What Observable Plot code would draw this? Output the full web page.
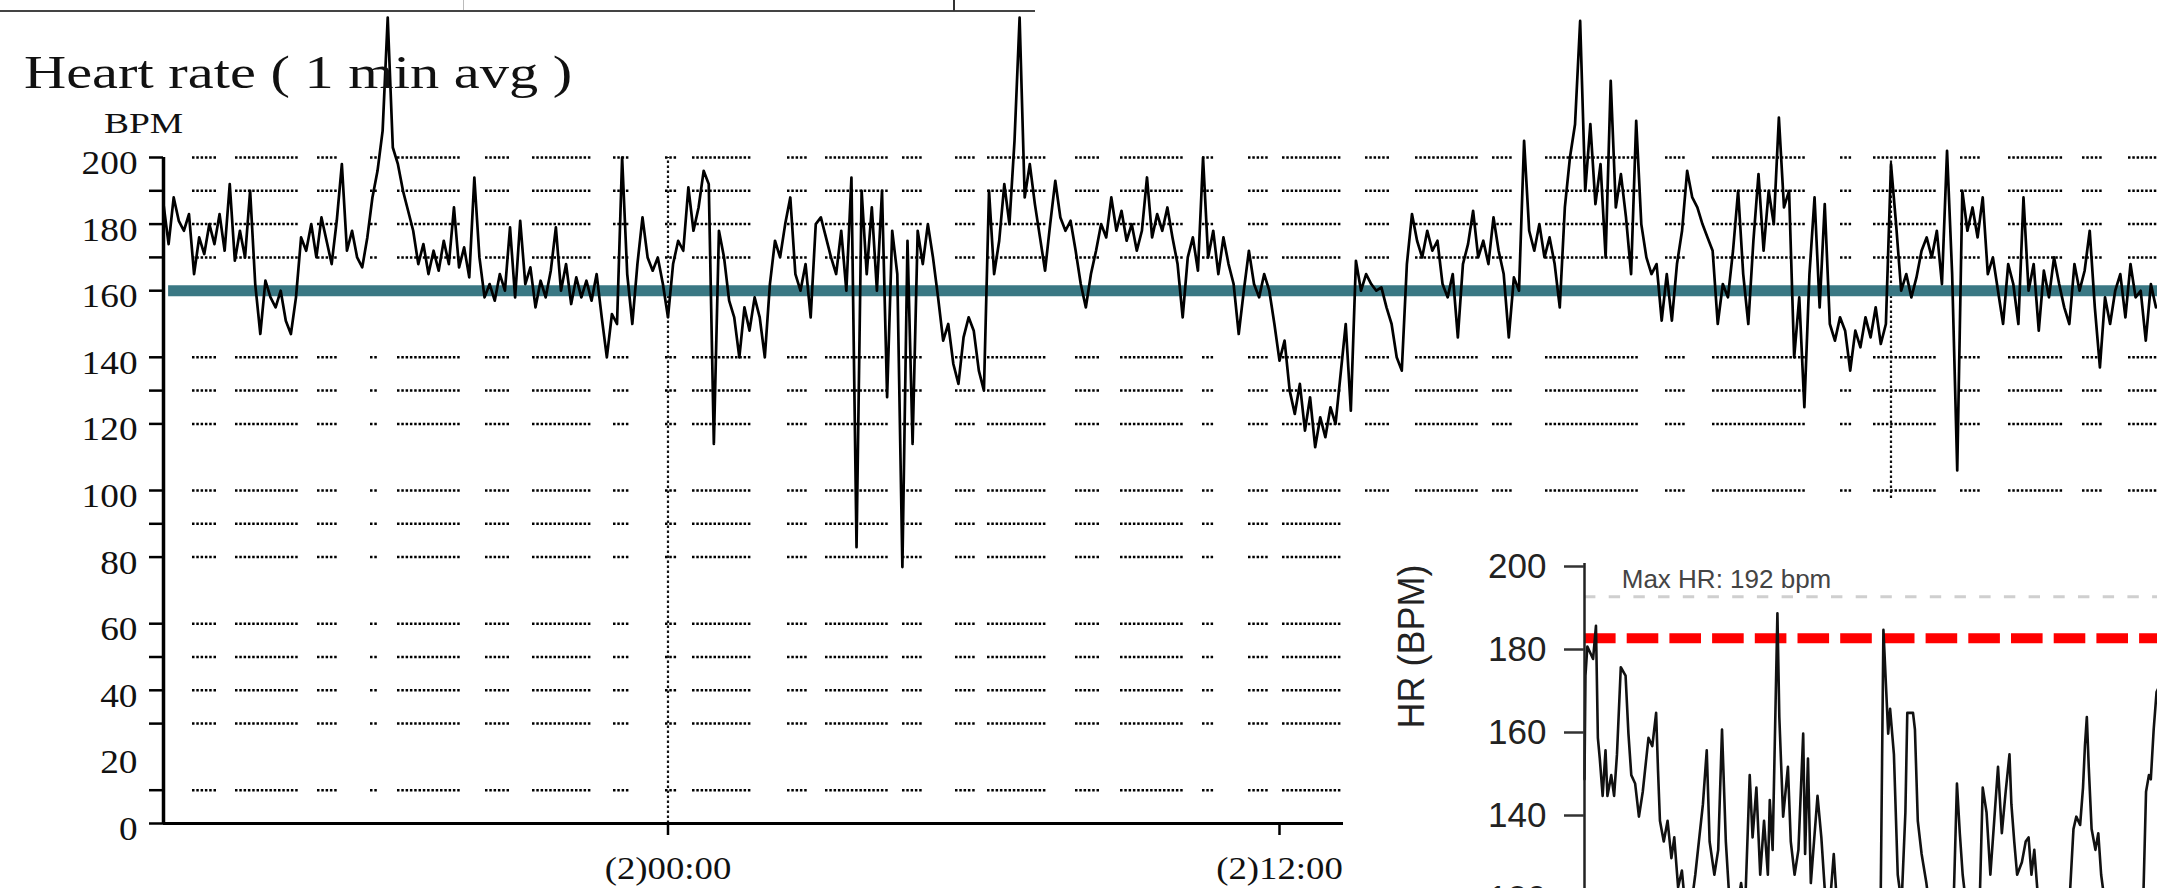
<!DOCTYPE html>
<html>
<head>
<meta charset="utf-8">
<script src="https://cdn.jsdelivr.net/npm/d3@7"></script>
<script src="https://cdn.jsdelivr.net/npm/@observablehq/plot@0.6"></script>
<style>
  html, body { margin: 0; padding: 0; background: #fff; }
  #wrap { position: relative; width: 2157px; height: 888px; overflow: hidden; background: #fff; }
  #wrap > * { position: absolute; }
  #title { left: 24px; top: 50px; font: 46px/46px "Liberation Serif", serif; color: #111; white-space: nowrap; transform: scaleX(1.27); transform-origin: left center; }
  #bpm { left: 104px; top: 108px; font: 30px/30px "Liberation Serif", serif; color: #111; white-space: nowrap; transform: scaleX(1.25); transform-origin: left center; }
  #topline { left: 0; top: 10px; width: 1035px; height: 0; border-top: 2px solid #444; }
  #tick1 { left: 953px; top: 0; width: 2px; height: 11px; background: #333; }
  #tick2 { left: 463px; top: 0; width: 1px; height: 10px; background: #bbb; }
</style>
</head>
<body>
<div id="wrap">
  <div id="topline"></div>
  <div id="tick1"></div>
  <div id="tick2"></div>
</div>
<script>
// ---------- main chart data: 1-min avg heart rate, sampled every 0.1 h ----------
// hours counted from (1)00:00; 24 = (2)00:00, 36 = (2)12:00, 48 = (3)00:00
const hrStep = 0.1;
const hrFrom14 = [ // 14.1 .. 23.9
  186,174,188,181,178,183,165,176,171,
  180,174,183,172,192,169,178,170,190,162,
  147,163,158,155,160,151,147,158,176,172,
  180,170,182,175,168,181,198,172,178,170,
  167,176,188,196,208,242,203,198,190,184,
  178,168,174,165,172,166,175,168,185,167,
  173,164,194,170,158,162,157,165,160,179,
  158,181,162,167,155,163,158,166,179,160,
  168,156,164,158,163,157,165,152,140,153,
  150,200,165,150,168,182,170,166,170,162
];
const hrFrom24 = [ // 24.0 .. 33.9
  152,168,175,172,191,178,185,196,192,114,
  178,170,157,152,140,155,148,158,152,140,
  162,175,170,180,188,165,160,168,152,180,
  182,176,170,165,178,160,194,83,190,165,
  185,160,190,128,178,165,77,175,114,178,
  168,180,170,158,145,150,138,132,146,152,
  148,136,130,190,165,175,192,180,205,242,
  188,198,186,176,166,180,193,182,178,181,
  172,162,155,165,172,180,176,188,178,184,
  175,180,172,178,194,176,183,178,185,176
];
const hrFrom34 = [ // 34.0 .. 43.9
  168,152,170,176,166,200,170,178,165,176,
  168,162,147,160,172,162,158,165,160,150,
  139,145,130,123,132,118,128,113,122,116,
  125,120,135,150,124,169,160,165,162,160,
  161,155,150,140,136,168,183,175,170,178,
  172,175,162,158,165,146,168,174,184,170,
  175,168,182,172,165,146,164,160,205,178,
  172,180,170,176,168,155,185,200,210,241,
  190,210,186,198,170,223,185,195,182,165,
  211,180,170,165,168,151,165,151,168,178
];
const hrFrom44 = [ // 44.0 .. 53.2
  196,188,185,180,176,172,150,162,158,172,
  190,165,150,175,195,172,190,180,212,185,
  190,140,158,125,165,188,155,186,150,145,
  152,148,136,148,143,152,146,155,144,150,
  198,180,160,165,158,164,172,176,170,178,
  162,202,165,106,190,178,185,176,188,165,
  170,160,150,168,162,150,188,160,168,148,
  166,158,170,162,155,150,168,160,166,178,
  155,137,158,150,160,165,152,168,158,160,
  145,162,155
];
const yLabelTicks = [0, 20, 40, 60, 80, 100, 120, 140, 160, 180, 200];
const yGridRows = [200, 190, 180, 170, 160, 140, 130, 120, 100, 90, 80, 60, 50, 40, 30, 10, 0];
const dayLines = [24, 48];
const xTicks = [24, 36, 48];
const xTickLabels = ["(2)00:00", "(2)12:00", "(3)00:00"];
const refLine = [160];

// ---------- inset data ----------
const insetMin = [0,0.1,0.3,0.9,1.2,1.4,1.6,1.9,2.2,2.4,2.8,3.1,3.4,3.8,4.3,4.6,4.9,5.3,5.7,6.1,6.7,7.1,7.5,7.7,7.9,8.3,8.7,9.1,9.4,9.8,10.2,10.6,11.2,11.6,12.4,12.8,13.1,13.6,14.0,14.4,14.8,15.2,15.8,16.4,16.8,17.3,17.6,18.0,18.4,18.8,19.2,19.4,19.7,20.2,20.4,20.8,21.3,21.6,22.0,22.4,22.9,23.1,23.4,23.7,24.4,24.8,25.2,25.6,26.1,26.6,27.8,29.0,30.2,31.0,31.3,31.6,31.8,32.0,32.4,32.8,33.2,33.6,33.8,34.4,34.6,34.9,35.3,35.8,36.4,37.4,38.6,39.0,39.3,39.6,40.2,41.0,41.4,41.7,42.1,42.5,42.9,43.3,43.7,44.1,44.5,44.7,45.0,45.3,45.8,46.2,46.5,46.8,47.1,47.5,48.5,49.7,50.7,51.2,51.5,51.9,52.2,52.4,52.6,52.8,53.1,53.5,53.8,54.1,54.5,55.3,56.5,57.7,58.5,58.8,59.1,59.3,59.6,59.9,60.1];
const insetBpm = [148,173,180,177,185,158,153,144,155,144,149,144,154,175,173,159,149,147,139,145,158,156,164,150,138,133,138,129,134,122,126,116,118,125,142,155,133,125,131,160,133,118,114,123,116,149,134,146,125,138,125,143,131,188,163,139,151,133,125,131,159,130,153,123,144,134,120,115,130,112,110,113,110,116,184,169,159,165,154,125,118,140,164,164,160,138,130,123,112,110,114,147,135,125,113,110,120,146,140,125,138,151,135,145,154,142,133,125,128,133,134,125,131,119,112,110,115,136,139,137,146,156,163,151,136,131,135,125,118,112,108,112,118,145,149,148,160,169,170];
const insetTicks = [200, 180, 160, 140, 120, 100];
const maxHr = [192];
const targetHr = [182];
const maxHrLabel = ["Max HR: 192 bpm"];
const insetYLabel = ["HR (BPM)"];

// ---------- styles ----------
const teal = "#3a7884";
// dotted-grid texture of the scanned original: [start, end] page pixels of the dotted runs
const gridRuns = [[192,217],[235,298],[317,337],[370,380],[397,463],[485,512],[532,593],[613,632],[665,678],[692,753],[787,807],[825,888],[902,922],[955,975],[987,1048],[1075,1102],[1120,1183],[1202,1217],[1248,1270],[1282,1343],[1365,1392],[1415,1478],[1492,1512],[1545,1638],[1665,1687],[1712,1807],[1840,1853],[1873,1937],[1960,1980],[2008,2063],[2082,2102],[2128,2157]];
function dotPattern(runs, origin, dot, gap) {
  const a = [0, 0];
  let pos = origin;
  for (const [s, e] of runs) {
    a[a.length - 1] += Math.max(0, s - pos);
    let x = Math.max(s, pos);
    while (x + dot <= e) { a.push(dot, gap); x += dot + gap; }
    pos = x;
  }
  a[a.length - 1] += 4000;
  return a.join(" ");
}

const hr = [[14.1, hrFrom14], [24.0, hrFrom24], [34.0, hrFrom34], [44.0, hrFrom44]]
  .flatMap(([t0, vals]) => vals.map((v, i) => ({t: +(t0 + i * hrStep).toFixed(2), v})));
const inset = insetMin.map((m, i) => ({m, v: insetBpm[i]}));

const mainLeft = 163;
const main = Plot.plot({
  width: 2157, height: 888,
  marginLeft: mainLeft, marginRight: 0, marginTop: 157, marginBottom: 65,
  x: {domain: [14.1, 53.23], axis: null},
  y: {domain: [0, 200], axis: null},
  style: {background: "transparent", overflow: "visible", color: "#111"},
  marks: [
    Plot.ruleY(yGridRows, {stroke: "#000", strokeWidth: 2.5, strokeDasharray: dotPattern(gridRuns, mainLeft, 2.5, 1.8)}),
    Plot.ruleX(dayLines, {y1: 0, y2: 200, stroke: "#111", strokeWidth: 2.2, strokeDasharray: "2.5 2.5"}),
    Plot.ruleY(refLine, {x1: 14.2, x2: 53.23, stroke: teal, strokeWidth: 11}),
    Plot.line(hr, {x: "t", y: "v", stroke: "#000", strokeWidth: 2.7}),
    Plot.ruleX([14.1], {y1: 0, y2: 200, stroke: "#000", strokeWidth: 3.5}),
    Plot.ruleY([0], {stroke: "#000", strokeWidth: 3}),
    Plot.axisY(yGridRows, {label: null, tickSize: 14, tickFormat: () => "", stroke: "#000", strokeWidth: 2.5}),
    Plot.axisY(yLabelTicks, {label: null, tickSize: 0, tickPadding: 26, fontSize: 33, fontFamily: "Liberation Serif", dy: 6, fill: "#111"}),
    Plot.axisX(xTicks, {label: null, tickSize: 12, tickPadding: 21, stroke: "#000", strokeWidth: 2.5, fontSize: 32, fontFamily: "Liberation Serif", fill: "#111",
      tickFormat: (d) => xTickLabels[xTicks.indexOf(d)]})
  ]
});

const insetPlot = Plot.plot({
  width: 814, height: 520,
  marginLeft: 241, marginRight: 0, marginTop: 63, marginBottom: 42,
  x: {domain: [0, 60], axis: null},
  y: {domain: [100, 200], axis: null},
  style: {background: "#fff", overflow: "visible", fontFamily: "Liberation Sans, Arial, sans-serif", color: "#222"},
  marks: [
    Plot.ruleY(maxHr, {stroke: "#cfcfcf", strokeWidth: 3, strokeDasharray: "11.4 13.3"}),
    Plot.ruleY(targetHr, {stroke: "#ff0000", strokeWidth: 10, strokeDasharray: "31.6 11.1"}),
    Plot.line(inset, {x: "m", y: "v", stroke: "#111", strokeWidth: 2.6}),
    Plot.ruleX([0], {y1: 100, y2: 200, stroke: "#222", strokeWidth: 2.5}),
    Plot.axisY(insetTicks, {label: null, tickSize: 20, tickPadding: 18, fontSize: 35, dy: 3, stroke: "#333", strokeWidth: 2.5, fill: "#222"}),
    Plot.text(maxHrLabel, {x: 3.9, y: maxHr[0], dy: -17, textAnchor: "start", lineAnchor: "middle", fontSize: 26, fill: "#444"}),
    Plot.text(insetYLabel, {frameAnchor: "left", y: 180, dx: -172, rotate: -90, textAnchor: "middle", lineAnchor: "middle", fontSize: 36, fill: "#222"})
  ]
});

const wrap = document.getElementById("wrap");
main.style.left = "0px"; main.style.top = "0px";
insetPlot.style.left = "1343px"; insetPlot.style.top = "500px";
wrap.appendChild(main);
wrap.appendChild(insetPlot);

const title = document.createElement("div");
title.id = "title"; title.textContent = "Heart rate ( 1 min avg )";
const bpm = document.createElement("div");
bpm.id = "bpm"; bpm.textContent = "BPM";
wrap.appendChild(title);
wrap.appendChild(bpm);

// the scanned serif labels are horizontally stretched: widen them with textLength
function stretch(sel, k) {
  main.querySelectorAll(sel).forEach((t) => {
    if (!t.textContent) return;
    const w = t.getComputedTextLength();
    t.setAttribute("textLength", (w * k).toFixed(1));
    t.setAttribute("lengthAdjust", "spacingAndGlyphs");
  });
}
stretch('g[aria-label="y-axis tick label"] text', 1.13);
stretch('g[aria-label="x-axis tick label"] text', 1.15);
</script>
</body>
</html>
